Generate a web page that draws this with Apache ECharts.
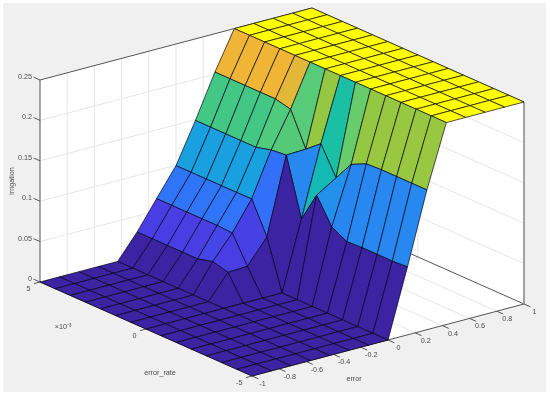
<!DOCTYPE html>
<html><head><meta charset="utf-8">
<style>html,body{margin:0;padding:0;background:#fff}#c{width:550px;height:395px}</style>
<script src="https://cdn.jsdelivr.net/npm/echarts@6/dist/echarts.min.js"></script>
</head><body><div id="c"></div>
<script>
// surface grid
const errorGrid=[-1,-0.857,-0.714,-0.571,-0.429,-0.286,-0.143,0,0.143,0.286,0.429,0.571,0.714,0.857,1];
const rateGrid=[-5,-4.286,-3.571,-2.857,-2.143,-1.429,-0.714,0,0.714,1.429,2.143,2.857,3.571,4.286,5];
// irrigation, one row per error grid value, left to right along rateGrid
const row00=[0,0,0,0,0,0,0,0,0,0,0,0,0,0,0];
const row01=[0,0,0,0,0,0,0,0,0,0,0,0,0,0,0];
const row02=[0,0,0,0,0,0,0,0,0,0,0,0,0,0,0];
const row03=[0,0,0,0,0,0,0,0,0,0,0,0,0,0,0];
const row04=[0,0,0,0,0,0,0,0,0,0,0,0,0,0,0];
const row05=[0,0,0,0,0,0,0,0,0.03,0.035,0.03,0.03,0.03,0.03,0.03];
const row06=[0,0,0,0,0,0,0,0,0.031,0.064,0.065,0.065,0.065,0.065,0.065];
const row07=[0,0,0,0,0,0,0,0,0.061,0.0998,0.0995,0.0995,0.0995,0.0995,0.0995];
const row08=[0.084,0.083,0.083,0.083,0.082,0.092,0.123,0.085,0.156,0.154,0.149,0.149,0.149,0.149,0.149];
const row09=[0.173,0.173,0.173,0.173,0.172,0.163,0.138,0.172,0.157,0.198,0.2025,0.2025,0.2025,0.2025,0.2025];
const row10=[0.25,0.25,0.25,0.25,0.25,0.25,0.25,0.25,0.25,0.25,0.25,0.25,0.25,0.25,0.25];
const row11=row10, row12=row10, row13=row10, row14=row10;
const zRows=[row00,row01,row02,row03,row04,row05,row06,row07,row08,row09,row10,row11,row12,row13,row14];
// tick labels
const errorTicks=[-1,-0.8,-0.6,-0.4,-0.2,0,0.2,0.4,0.6,0.8,1];
const errorLabels=['-1','-0.8','-0.6','-0.4','-0.2','0','0.2','0.4','0.6','0.8','1'];
const rateTicks=[-5,0,5];
const rateLabels=['-5','0','5'];
const zTicks=[0,0.05,0.1,0.15,0.2,0.25];
const zLabels=['0','0.05','0.1','0.15','0.2','0.25'];
// colour map: value fraction -> rgb
const cmapStops=[0,0.12,0.245,0.37,0.40,0.49,0.55,0.6,0.65,0.69,0.81,1];
const cmapColors=[[60,35,162],[72,62,228],[50,112,250],[35,145,235],[25,160,222],[20,185,180],[25,192,165],[70,200,130],[100,205,110],[150,200,65],[240,180,55],[255,255,0]];

function colour(z){
  const t=Math.max(0,Math.min(1,z/0.25));
  let k=0; while(k<cmapStops.length-2&&t>cmapStops[k+1])k++;
  const f=(t-cmapStops[k])/(cmapStops[k+1]-cmapStops[k]);
  const a=cmapColors[k],b=cmapColors[k+1];
  return 'rgb('+[0,1,2].map(n=>Math.round(a[n]+(b[n]-a[n])*f)).join(',')+')';
}
// orthographic view of the 3D box, giving positions on the hidden 2D axes
function view(e,r,z){
  const u=(e+1)/2, v=(r+5)/10;
  return [252+u*272-v*212, 376-u*72-v*94-z*808];
}
const emin=-1,emax=1,rmin=-5,rmax=5,zmin=0,zmax=0.25;

const quads=[];
for(let i=13;i>=0;i--)for(let j=13;j>=0;j--){
  quads.push([errorGrid[i],errorGrid[i+1],rateGrid[j],rateGrid[j+1],zRows[i][j],zRows[i+1][j],zRows[i+1][j+1],zRows[i][j+1]]);
}
function surfaceItem(p,api){
  const v=k=>api.value(k);
  const pts=[view(v(0),v(2),v(4)),view(v(1),v(2),v(5)),view(v(1),v(3),v(6)),view(v(0),v(3),v(7))].map(q=>api.coord(q));
  return {type:'polygon',shape:{points:pts},style:{fill:colour(v(4)),stroke:'rgba(0,0,20,0.8)',lineWidth:0.85,lineJoin:'round'}};
}
function lineItem(width,color){return function(p,api){
  const a=api.coord(view(api.value(0),api.value(1),api.value(2)));
  const b=api.coord(view(api.value(3),api.value(4),api.value(5)));
  return {type:'line',shape:{x1:a[0],y1:a[1],x2:b[0],y2:b[1]},style:{stroke:color,lineWidth:width}};
}}
const gridSegs=[];
errorTicks.slice(1,-1).forEach(e=>{gridSegs.push([e,rmax,zmin,e,rmax,zmax]);gridSegs.push([e,rmin,zmin,e,rmax,zmin]);});
rateTicks.slice(1,-1).forEach(r=>{gridSegs.push([emax,r,zmin,emax,r,zmax]);gridSegs.push([emin,r,zmin,emax,r,zmin]);});
zTicks.slice(1,-1).forEach(z=>{gridSegs.push([emin,rmax,z,emin+2,rmax,z]);gridSegs.push([emax,rmin,z,emax,rmax,z]);});
const boxSegs=[[emin,rmax,zmin,emin,rmax,zmax],[emin,rmax,zmax,emax,rmax,zmax],[emax,rmax,zmax,emax,rmin,zmax],
  [emax,rmin,zmin,emax,rmax,zmin],[emin,rmin,zmin,emax,rmin,zmin],[emin,rmin,zmin,emin,rmax,zmin]];
const rightEdge=[[emax,rmin,zmin,emax,rmin,zmax]];
// ticks, parallel to the axes of the floor
const tickE=0.22/5, tickR=0.3;
const tickSegs=[];
errorTicks.forEach(e=>tickSegs.push([e,rmin,zmin,e,rmin-tickR,zmin]));
rateTicks.forEach(r=>tickSegs.push([emin,r,zmin,emin-tickE,r,zmin]));
zTicks.forEach(z=>tickSegs.push([emin,rmax,z,emin,rmax+tickR,z]));

const txtCol='#4a4a4a', font='"Liberation Sans", Arial, sans-serif';
function textEl(api,pos,text,dx,dy,align,extra){
  const c=api.coord(pos);
  return Object.assign({type:'text',x:c[0]+dx,y:c[1]+dy,
    style:{text:text,fill:txtCol,fontSize:7.2,fontFamily:font,align:align,verticalAlign:'middle'}},extra||{});
}
const labelItems=[];
errorTicks.forEach((e,k)=>labelItems.push({p:[e,rmin,zmin],t:errorLabels[k],dx:10.5,dy:8,a:'center'}));
rateTicks.forEach((r,k)=>labelItems.push({p:[emin,r,zmin],t:rateLabels[k],dx:-9.5,dy:7.5,a:'right'}));
zTicks.forEach((z,k)=>labelItems.push({p:[emin,rmax,z],t:zLabels[k],dx:-8,dy:-3,a:'right'}));
function labelRender(p,api){const L=labelItems[p.dataIndex];return textEl(api,view(L.p[0],L.p[1],L.p[2]),L.t,L.dx,L.dy,L.a);}

function plain(item){return {type:'custom',silent:true,clip:false,coordinateSystem:'cartesian2d',animation:false,progressive:0,...item};}
const option={
  animation:false,
  backgroundColor:'#ffffff',
  grid:{show:true,left:3,top:3,width:543,height:389,backgroundColor:'#f0f0f0',borderWidth:0},
  xAxis:{type:'value',min:3,max:546,show:false},
  yAxis:{type:'value',min:3,max:392,inverse:true,show:false},
  series:[
    plain({data:[[emin,rmax,zmin,emin,rmax,zmax,emax,rmax,zmax,emax,rmax,zmin],[emax,rmin,zmin,emax,rmin,zmax,emax,rmax,zmax,emax,rmax,zmin],[emin,rmin,zmin,emax,rmin,zmin,emax,rmax,zmin,emin,rmax,zmin]],
      renderItem(p,api){const v=api.value;const pts=[0,3,6,9].map(k=>api.coord(view(v(k),v(k+1),v(k+2))));
        return {type:'polygon',shape:{points:pts},style:{fill:'#ffffff'}};}}),
    plain({data:gridSegs,renderItem:lineItem(1,'#e6e6e6')}),
    plain({data:boxSegs,renderItem:lineItem(1,'#555555')}),
    plain({data:rightEdge,renderItem:lineItem(1.6,'#8c8c8c')}),
    plain({data:tickSegs,renderItem:lineItem(1,'#555555')}),
    plain({data:quads,renderItem:surfaceItem}),
    plain({data:labelItems.map((L,k)=>[k]),renderItem:labelRender}),
    plain({data:[[0]],renderItem(p,api){return {type:'group',children:[
      textEl(api,[354,379],'error',0,0,'center'),
      textEl(api,[160,373],'error_rate',0,0,'center'),
      textEl(api,[63,327],'×10⁻³',0,0,'center'),
      textEl(api,[12,181],'irrigation',0,0,'center',{rotation:Math.PI/2})
    ]};}})
  ]
};
const chart=echarts.init(document.getElementById('c'),null,{renderer:'canvas'});
chart.setOption(option);
</script></body></html>
